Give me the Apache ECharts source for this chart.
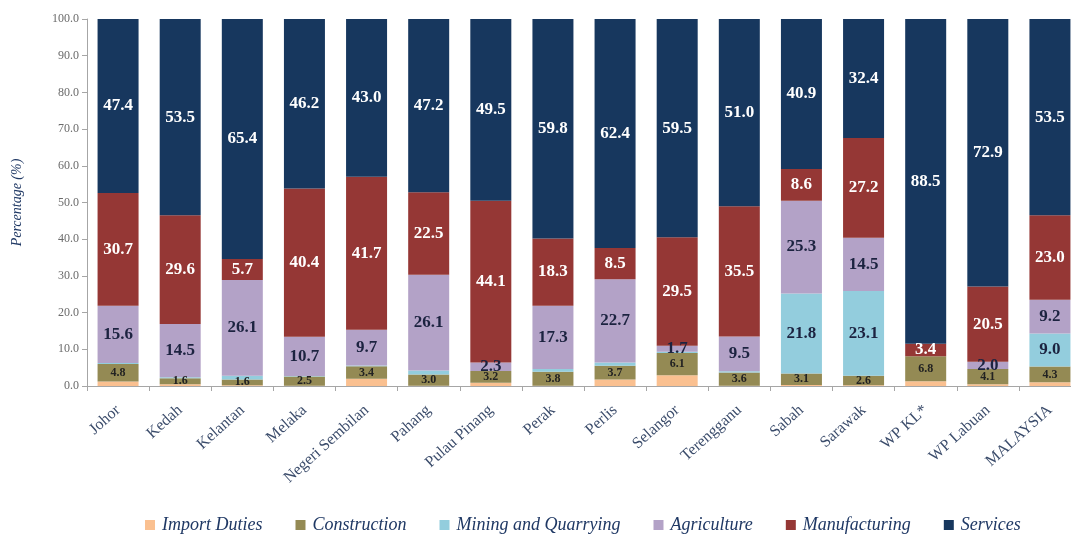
<!DOCTYPE html>
<html><head><meta charset="utf-8">
<script src="https://cdn.jsdelivr.net/npm/echarts@6/dist/echarts.min.js"></script>
<style>html,body{margin:0;padding:0;background:#fff;overflow:hidden;width:1071px;height:536px}#c{width:1090px;height:536px}</style>
</head><body><div id="c"></div>
<script>
const categories = ['Johor','Kedah','Kelantan','Melaka','Negeri Sembilan','Pahang','Pulau Pinang','Perak','Perlis','Selangor','Terengganu','Sabah','Sarawak','WP KL*','WP Labuan','MALAYSIA'];
const importDuties  = [1.2, 0.5, 0.2, 0.1, 2.0, 0.1, 0.9, 0.1, 1.8, 2.9, 0.1, 0.3, 0.2, 1.3, 0.5, 1.0];
const construction  = [4.8, 1.6, 1.6, 2.5, 3.4, 3.0, 3.2, 3.8, 3.7, 6.1, 3.6, 3.1, 2.6, 6.8, 4.1, 4.3];
const mining        = [0.3, 0.3, 1.0, 0.1, 0.2, 1.1, 0.0, 0.7, 0.9, 0.3, 0.3, 21.8, 23.1, 0.0, 0.0, 9.0];
const agriculture   = [15.6, 14.5, 26.1, 10.7, 9.7, 26.1, 2.3, 17.3, 22.7, 1.7, 9.5, 25.3, 14.5, 0.0, 2.0, 9.2];
const manufacturing = [30.7, 29.6, 5.7, 40.4, 41.7, 22.5, 44.1, 18.3, 8.5, 29.5, 35.5, 8.6, 27.2, 3.4, 20.5, 23.0];
const services      = [47.4, 53.5, 65.4, 46.2, 43.0, 47.2, 49.5, 59.8, 62.4, 59.5, 51.0, 40.9, 32.4, 88.5, 72.9, 53.5];
const yTicks = [0,10,20,30,40,50,60,70,80,90,100];

const SERIF = '"Liberation Serif", "DejaVu Serif", serif';
function mk(name, data, color, label) {
  return {
    name, type: 'bar', stack: 'total', data, barWidth: 41,
    itemStyle: { color },
    label: label ? Object.assign({ show: true, position: 'inside', fontFamily: SERIF, fontWeight: 'bold' }, label) : { show: false },
    emphasis: { disabled: true }
  };
}
const fmtMin = (min) => (p) => (p.value > min ? p.value.toFixed(1) : '');

const chart = echarts.init(document.getElementById('c'));
chart.setOption({
  animation: false,
  grid: { left: 87, right: 9, top: 19, bottom: 150, containLabel: false, outerBoundsMode: 'none' },
  legend: {
    left: 140, top: 511, itemWidth: 10, itemHeight: 10, itemGap: 33,
    icon: 'rect',
    textStyle: { fontFamily: SERIF, fontStyle: 'italic', fontSize: 18, color: '#1f3864', padding: [0,0,0,2] },
    data: ['Import Duties','Construction','Mining and Quarrying','Agriculture','Manufacturing','Services']
  },
  xAxis: {
    type: 'category', data: categories,
    axisLine: { lineStyle: { color: '#a6a6a6' } },
    axisTick: { show: true, length: 5, lineStyle: { color: '#a6a6a6' } },
    axisLabel: { rotate: 42, interval: 0, fontFamily: SERIF, fontSize: 16, color: '#3b4c6b', margin: 22 }
  },
  yAxis: {
    type: 'value', min: 0, max: 100, interval: 10,
    name: 'Percentage (%)', nameLocation: 'middle', nameGap: 63,
    nameTextStyle: { fontFamily: SERIF, fontStyle: 'italic', fontSize: 14, color: '#1f3864' },
    splitLine: { show: false },
    axisLine: { show: true, lineStyle: { color: '#a6a6a6' } },
    axisTick: { show: true, length: 5, lineStyle: { color: '#a6a6a6' } },
    axisLabel: { fontFamily: SERIF, fontSize: 12, color: '#6b6b6b', margin: 8, formatter: (v) => v.toFixed(1) }
  },
  series: [
    mk('Import Duties', importDuties, '#fac090', null),
    mk('Construction', construction, '#948a54', { fontSize: 12, color: '#222222', formatter: fmtMin(0) }),
    mk('Mining and Quarrying', mining, '#93cddd', { fontSize: 17, color: '#1c2340', formatter: fmtMin(5) }),
    mk('Agriculture', agriculture, '#b3a2c7', { fontSize: 17, color: '#1c2340', formatter: fmtMin(0) }),
    mk('Manufacturing', manufacturing, '#953735', { fontSize: 17, color: '#ffffff', formatter: fmtMin(0) }),
    mk('Services', services, '#17375e', { fontSize: 17, color: '#ffffff', formatter: fmtMin(0) })
  ]
});
</script></body></html>
